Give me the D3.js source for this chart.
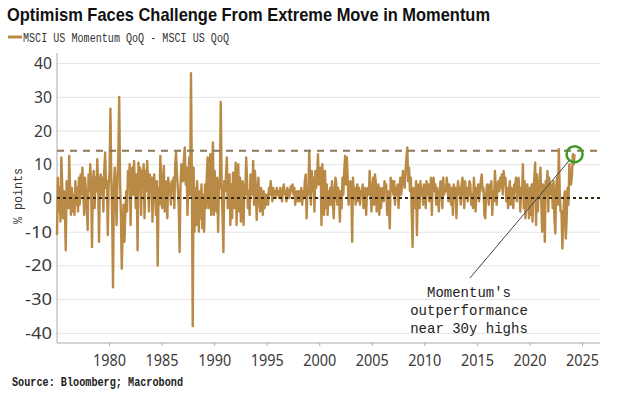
<html>
<head>
<script src="https://d3js.org/d3.v7.min.js"></script>
<style>
  body { margin: 0; background: #fff; }
  .gridlines .domain { display: none; }
  .gridlines line { stroke: #e4e4e4; }
</style>
</head>
<body>
<svg id="chart" width="620" height="393"></svg>
<script>
// MSCI US Momentum QoQ - MSCI US QoQ, % points, monthly from Jan 1975
const spread1970s = [
  -11, 6, -4, 3, -7, 12, 4, -6, 2, -3, -15.5, 5,
  4, -3, 12.5, 2, -5, 3, -4, 1, -5, 5, -2, 3,
  -4, 6, -2, 7, 1, 9, 3, -5, 6, 2, -3, -9.5,
  7, 2, 10, 4, -14.5, 5, 8, -3, 6, 2, 11.5, 4,
  -13, 5, 7, 1, 6, -4, 8, 13.5, 3, 5, -11, 4
];
const spread1980s = [
  8, 26.5, 6, -5, -26.5, 4, 9, 2, -8, 5, 12, 30,
  5, -6, -21, -10, -2, -13, -5, 2, -4, 8, 3, 10,
  -8, 6, 9, 1, 11, 4, -3, 7, -15.5, 10.5, 3, 9,
  -5, 8, 4, 10, -6, 8, 2, 11, 5, -4, 7, 3,
  6, -7, 4, 7, 1, -5, 5, -20, 3, -2, 12.5, 4,
  -3, 5, 9.5, -4, 5, 2, -6, 6, 3, 4, -2, 5,
  2, 6, -3, 10, 13.5, 7, 3, -2, -16, 3, 10, 5,
  5, 12, 15, 4, 9, -5, 5, 12, 1, 37, 6, -38,
  9, -10, 3, -8, 5, -2, -10, 2, -6, 4, -9, 1,
  -10, 4, -3, 6, 12, -3, 6, 13, -5, 8, 16.5, -5
];
const spread1990s = [
  8, 2, -4, 6, -10, 5, 3, 28.5, 4, -5, -16, 5,
  2, 7, 12, -3, 5, 7, -8, 4, -6, 7.5, -3, 3,
  10.5, -8, 3, 10, -4, 6, -7, 2, 5, -8, 4, 1,
  12, 5, -3, 2, -5, 7, 4, 1, 11, -2, 8, 3,
  -6.5, 2, 6, -1, -4, 3, 1, -5, 2, -3, 1, -2,
  1, -2, 3, 1, 5, 2, -1, 3, 1, 2, 0, 3,
  1, 2, 0, 3, 1, -1, 2.5, 4, 1, 2, -1, 3,
  2, 0, 1, 3.5, 2, 4, 1, 3, -2, 1, 2, -1,
  2, -1, 1, 3, -2, 2, 0, 5, 7, -6, 3, 1,
  14, 5, -2, 8, 2, 6, -4, 8, 3, 6, 13, 4
];
const spread2000s = [
  5, 9, -8, 10, 3, -5, 8, -3, 4, -5, 2, -2,
  3, -2, 5, -1, -6, 2, 6, 4, -2, 3, 1, -7,
  2, -3, 6, 1, 8, 12.5, 4, 12, 5, -2, 3, 5,
  3, -13, 6, 1, 3, -2, 2, 4, -1, 3, -2, 2,
  1, 4, -3, 2, 3, -5, 2, 3, 1, 8, 3, -4,
  2, 6, -2, 7, 5, -4, 1, 4, -5, 3, -3, 2,
  3, -1, 5, 2, 4, -5, 2, -3, -9, 6, 2, 5,
  1, 5, -2, 3, 1, 4, -3, 2, 6, 1, 4, 8,
  6, 3, 8, 12, 15, 5, 9, 2, 6, -4, -14.5, 3,
  2, -3, 5, -11, 4, 2, -3, 5, 1, 3, -2, 4
];
const spread2010s = [
  3, -3, 5, 1, 4, -1, 2, 6, -5, 4, 6, 2,
  4, -2, 3, 1, -4, 2, 5, 3, -3, 6, 1, 3,
  2, 6, 3, -1, 4, 2, -2, 3, -5, 4, 1, 3,
  -6, 2, 5, 1, 3, -2, 4, 6, 2, -3, 5, 1,
  3, -1, 2, 5, 4, -2, 1, -3, 6, 2, -4, 3,
  2, 4, -1, 3, 5, 7, 2, 3, -5, -6, 1, 4,
  3, -2, 4, 1, 5, -5, 2, -1, 8, 3, -2, 4,
  5, 2, 6, 3, 7, 1, 8, 4, 6, -1, 3, -3,
  2, 5, -2, 3, 1, -3, 4, 2, 6, -1, 3, 6,
  2, -4, 3, 1, 10, -3, 5, -6, 2, 4, -1, -6
];
const spread2020s = [
  3, -5, 4, -7, 2, 6, 10.5, -8, 7, -4, 3, 5,
  9, -2, -10, 4, 2, -13, 5, 2, 8, -4, 6, 3,
  1, 4, -3, 5, -6, -10.5, 3, 6, -2, 14.5, 2, -4,
  -4, -15, -8, 0, 2, -12, -6, 3, -2, 10, 6, 4,
  7, 13, 10, 13
];
const startYear = 1975;
const highLevel = 14;   // ~30y high reference line
const yTicks = [-40, -30, -20, -10, 0, 10, 20, 30, 40];
const xTicks = [1980, 1985, 1990, 1995, 2000, 2005, 2010, 2015, 2020, 2025];
const noteLines = ["Momentum's", "outperformance", "near 30y highs"];

const values = [].concat(spread1970s, spread1980s, spread1990s, spread2000s, spread2010s, spread2020s);
const data = values.map((v, i) => ({ date: new Date(startYear, i, 1), value: v }));

const svg = d3.select("#chart");
const plotLeft = 57, plotRight = 600, plotTop = 53, plotBottom = 343;
const mono = "'Liberation Mono', 'DejaVu Sans Mono', monospace";
const sans = "'Noto Sans', 'Open Sans', sans-serif";
const lineColor = "#b98a45";

const xScale = d3.scaleTime()
  .domain([new Date(1975, 0, 1), new Date(2026, 8, 1)])
  .range([plotLeft, plotRight]);
const yScale = d3.scaleLinear()
  .domain([-43, 43])
  .range([plotBottom, plotTop]);

// title + legend
svg.append("text")
  .attr("x", 7).attr("y", 21)
  .attr("font-family", "'Liberation Sans', Arial, sans-serif")
  .attr("font-weight", "bold").attr("font-size", 19)
  .attr("textLength", 483).attr("lengthAdjust", "spacingAndGlyphs")
  .attr("fill", "#111")
  .text("Optimism Faces Challenge From Extreme Move in Momentum");

svg.append("line")
  .attr("x1", 8).attr("x2", 22).attr("y1", 37).attr("y2", 37)
  .attr("stroke", lineColor).attr("stroke-width", 3);
svg.append("text")
  .attr("x", 23).attr("y", 41.5)
  .attr("font-family", mono).attr("font-size", 13)
  .attr("textLength", 206).attr("lengthAdjust", "spacingAndGlyphs")
  .attr("fill", "#333")
  .text("MSCI US Momentum QoQ - MSCI US QoQ");

// gridlines
svg.append("g")
  .attr("class", "gridlines")
  .attr("transform", `translate(${plotLeft},0)`)
  .call(d3.axisLeft(yScale).tickValues(yTicks.filter(d => d !== 0)).tickSize(-(plotRight - plotLeft)).tickFormat(""));

// y labels
svg.append("g").selectAll("text")
  .data(yTicks)
  .join("text")
  .attr("x", 52).attr("y", d => yScale(d) + 6)
  .attr("text-anchor", "end")
  .attr("font-family", sans).attr("font-size", 17)
  .attr("textLength", d => String(d).length * 9).attr("lengthAdjust", "spacingAndGlyphs")
  .attr("fill", "#3a3a3a")
  .text(d => String(d));

// axis lines
svg.append("line")
  .attr("x1", plotLeft).attr("x2", plotRight).attr("y1", plotBottom).attr("y2", plotBottom)
  .attr("stroke", "#aaa");
svg.append("line")
  .attr("x1", plotLeft).attr("x2", plotLeft).attr("y1", plotTop).attr("y2", plotBottom)
  .attr("stroke", "#aaa");
svg.append("g").selectAll("line")
  .data(xTicks)
  .join("line")
  .attr("x1", d => xScale(new Date(d, 0, 1))).attr("x2", d => xScale(new Date(d, 0, 1)))
  .attr("y1", plotBottom).attr("y2", plotBottom + 3)
  .attr("stroke", "#aaa");
svg.append("g").selectAll("text")
  .data(xTicks)
  .join("text")
  .attr("x", d => xScale(new Date(d, 0, 1))).attr("y", 366)
  .attr("text-anchor", "middle")
  .attr("font-family", sans).attr("font-size", 17)
  .attr("textLength", 33).attr("lengthAdjust", "spacingAndGlyphs")
  .attr("fill", "#3a3a3a")
  .text(d => d);

// y title
svg.append("text")
  .attr("transform", "translate(22,196) rotate(-90)")
  .attr("text-anchor", "middle")
  .attr("font-family", mono).attr("font-size", 12)
  .attr("textLength", 56).attr("lengthAdjust", "spacingAndGlyphs")
  .attr("fill", "#333")
  .text("% points");

// series
const lineGen = d3.line()
  .x(d => xScale(d.date))
  .y(d => yScale(d.value));
svg.append("path")
  .attr("d", lineGen(data))
  .attr("fill", "none")
  .attr("stroke", lineColor)
  .attr("stroke-width", 2.4)
  .attr("stroke-linejoin", "round");

// reference lines
svg.append("line")
  .attr("x1", plotLeft).attr("x2", plotRight)
  .attr("y1", yScale(0)).attr("y2", yScale(0))
  .attr("stroke", "#3b2a12").attr("stroke-width", 2)
  .attr("stroke-dasharray", "3,3");
svg.append("line")
  .attr("x1", plotLeft).attr("x2", plotRight)
  .attr("y1", yScale(highLevel)).attr("y2", yScale(highLevel))
  .attr("stroke", "#8a7658").attr("stroke-width", 2)
  .attr("stroke-dasharray", "7,6");

// annotation
const last = data[data.length - 1];
const cx = xScale(last.date), cy = yScale(last.value);
const r = 8;
const noteX = 469, noteY = 297;
const sx = 470, sy = 278;
const ang = Math.atan2(sy - cy, sx - cx);
svg.append("line")
  .attr("x1", sx).attr("y1", sy)
  .attr("x2", cx + r * Math.cos(ang)).attr("y2", cy + r * Math.sin(ang))
  .attr("stroke", "#444").attr("stroke-width", 1);
svg.append("circle")
  .attr("cx", cx).attr("cy", cy).attr("r", r)
  .attr("fill", "none")
  .attr("stroke", "#3c9a2c").attr("stroke-width", 2.5);

svg.append("g").selectAll("text")
  .data(noteLines)
  .join("text")
  .attr("x", noteX).attr("y", (d, i) => noteY + i * 18)
  .attr("text-anchor", "middle")
  .attr("font-family", mono).attr("font-size", 15)
  .attr("textLength", d => d.length * 8.4).attr("lengthAdjust", "spacingAndGlyphs")
  .attr("fill", "#222")
  .text(d => d);

// source
svg.append("text")
  .attr("x", 12).attr("y", 386)
  .attr("font-family", mono).attr("font-weight", "bold").attr("font-size", 12)
  .attr("textLength", 171).attr("lengthAdjust", "spacingAndGlyphs")
  .attr("fill", "#222")
  .text("Source: Bloomberg; Macrobond");
</script>
</body>
</html>
